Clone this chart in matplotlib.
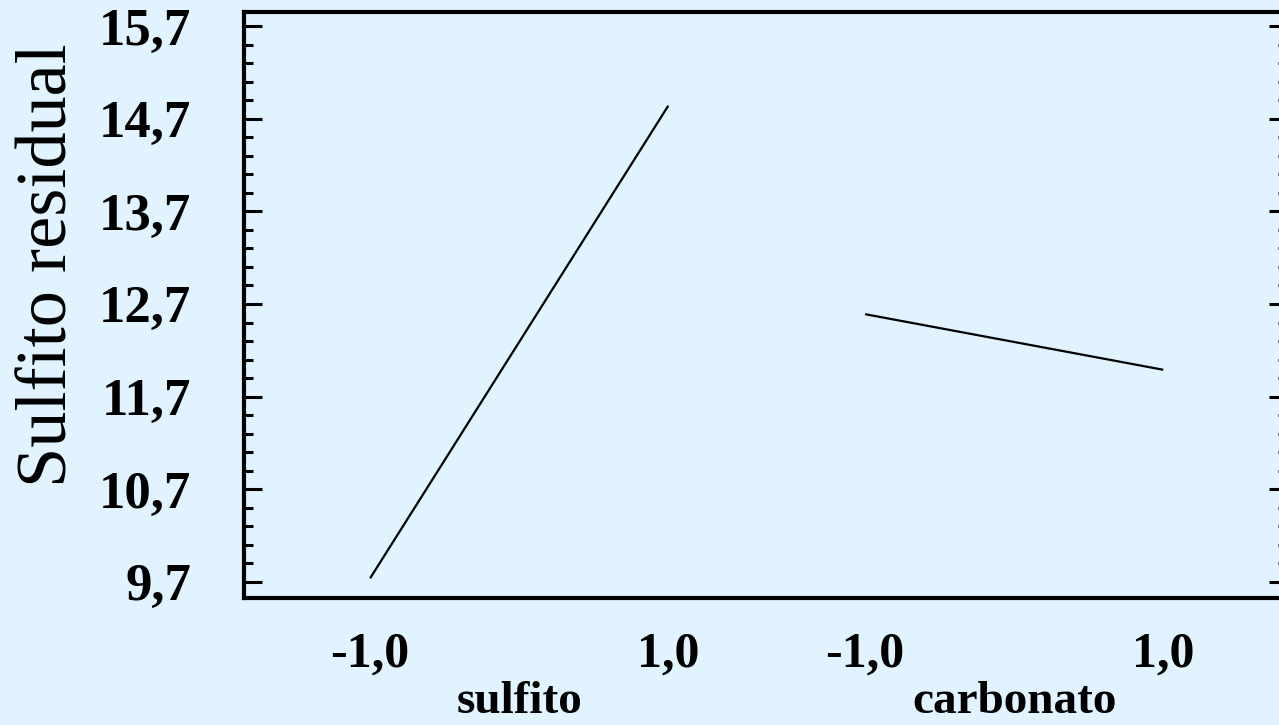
import matplotlib
matplotlib.use("Agg")
import matplotlib.pyplot as plt
from matplotlib.ticker import FixedLocator
import numpy as np

# Data
factors = ["sulfito", "carbonato"]
levels = [-1.0, 1.0]
sulfito_vals = [9.74, 14.84]
carbonato_vals = [12.59, 11.99]
series = [sulfito_vals, carbonato_vals]
factor_offsets = [0.0, 3.32]
y_ticks = [9.7, 10.7, 11.7, 12.7, 13.7, 14.7, 15.7]
y_tick_labels = ["9,7", "10,7", "11,7", "12,7", "13,7", "14,7", "15,7"]
x_tick_labels = ["-1,0", "1,0"]
ylabel = "Sulfito residual"

BG = "#E1F3FF"
W, H = 1279, 725
fig = plt.figure(figsize=(W / 100, H / 100), dpi=100, facecolor=BG)
left, right, top, bottom = 244, 1287, 12, 598
ax = fig.add_axes([left / W, (H - bottom) / H, (right - left) / W, (bottom - top) / H])
ax.set_facecolor(BG)

for off, vals in zip(factor_offsets, series):
    xs = [off + l for l in levels]
    ax.plot(xs, vals, color="black", lw=1.6, solid_capstyle="butt")

ax.set_xlim(-1.846, 5.15)
ax.set_ylim(9.527, 15.851)

serif = ["Liberation Serif", "DejaVu Serif"]

# y ticks
ax.yaxis.set_major_locator(FixedLocator(y_ticks))
ax.set_yticklabels(y_tick_labels, fontfamily=serif, fontweight="bold", fontsize=38)
ax.yaxis.set_minor_locator(FixedLocator([v for v in np.arange(9.7, 15.71, 0.2)]))
ax.tick_params(axis="y", which="major", direction="in", length=13, width=2.2,
               left=True, right=True, pad=38)
ax.tick_params(axis="y", which="minor", direction="in", length=6.5, width=2.2,
               left=True, right=True)

# x ticks
xt = []
xl = []
for off in factor_offsets:
    for l, lab in zip(levels, x_tick_labels):
        xt.append(off + l)
        xl.append(lab)
ax.set_xticks(xt)
ax.set_xticklabels(xl, fontfamily=serif, fontweight="bold", fontsize=36)
ax.tick_params(axis="x", which="both", length=0, pad=24)

for off, name in zip(factor_offsets, factors):
    ax.text(off, 2 / 725, name, transform=fig.transFigure if False else
            matplotlib.transforms.blended_transform_factory(ax.transData, fig.transFigure),
            ha="center", va="bottom", fontfamily=serif, fontweight="bold",
            fontsize=34)

for s in ["left", "top", "bottom", "right"]:
    ax.spines[s].set_linewidth(3)
    ax.spines[s].set_color("black")

fig.text(49 / W, 1 - 265 / H, ylabel, rotation=90, ha="center", va="center",
         fontfamily=serif, fontsize=52)

fig.savefig("out.png", dpi=100, facecolor=BG)
